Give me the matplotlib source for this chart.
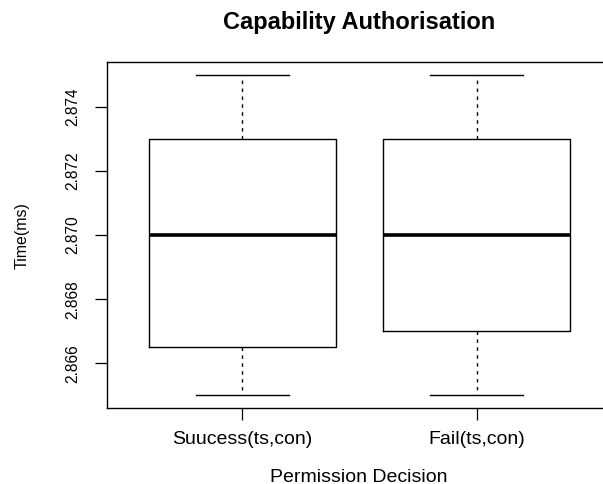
import matplotlib
matplotlib.use("Agg")
import matplotlib.pyplot as plt

categories = ["Suucess(ts,con)", "Fail(ts,con)"]
whisker_low = [2.865, 2.865]
q1 = [2.8665, 2.867]
median = [2.870, 2.870]
q3 = [2.873, 2.873]
whisker_high = [2.875, 2.875]
yticks = [2.866, 2.868, 2.870, 2.872, 2.874]

plt.rcParams['font.family'] = ['Liberation Sans', 'DejaVu Sans']

fig = plt.figure(figsize=(6.03, 4.84), dpi=100)
W, H = 603, 484
left_px, right_px, top_px, bottom_px = 106.7, 612.4, 62.3, 408.0
ax = fig.add_axes([left_px / W, 1 - bottom_px / H,
                   (right_px - left_px) / W, (bottom_px - top_px) / H])

stats = []
for i in range(len(categories)):
    stats.append(dict(label=categories[i], whislo=whisker_low[i], q1=q1[i],
                      med=median[i], q3=q3[i], whishi=whisker_high[i], fliers=[]))

ax.bxp(stats, positions=[1, 2], widths=0.8, capwidths=0.4, showfliers=False,
       boxprops=dict(color='black', linewidth=1.0),
       whiskerprops=dict(color='black', linewidth=1.0, linestyle=(0, (2.5, 3.2))),
       capprops=dict(color='black', linewidth=1.0),
       medianprops=dict(color='black', linewidth=2.6, solid_capstyle='butt'))

ax.set_xlim(0.42, 2.58)
ax.set_ylim(2.8646, 2.8754)
ax.set_yticks(yticks)
ax.set_yticklabels([f"{v:.3f}" for v in yticks], rotation=90, va='center', fontsize=11.2)
ax.set_xticks([1, 2])
ax.set_xticklabels(categories, fontsize=14)
ax.tick_params(axis='both', direction='out', length=8.4, width=0.9, color='black')
ax.tick_params(axis='y', pad=11)
ax.tick_params(axis='x', pad=8)

for s in ax.spines.values():
    s.set_linewidth(1.0)
    s.set_color('black')
ax.spines['right'].set_visible(False)

ax.set_ylabel("Time(ms)", fontsize=11.5, va='center')
ax.yaxis.set_label_coords((21.7 - left_px) / (right_px - left_px), 0.5)
ax.set_xlabel("Permission Decision", fontsize=14, va='center')
ax.xaxis.set_label_coords((359 - left_px) / (right_px - left_px), (bottom_px - 477) / (bottom_px - top_px))

ax.text((358.7 - left_px) / (right_px - left_px), (bottom_px - 23) / (bottom_px - top_px),
        "Capability Authorisation", transform=ax.transAxes, ha='center', va='center',
        fontsize=17, fontweight='bold')

fig.savefig("out.png", dpi=100)
